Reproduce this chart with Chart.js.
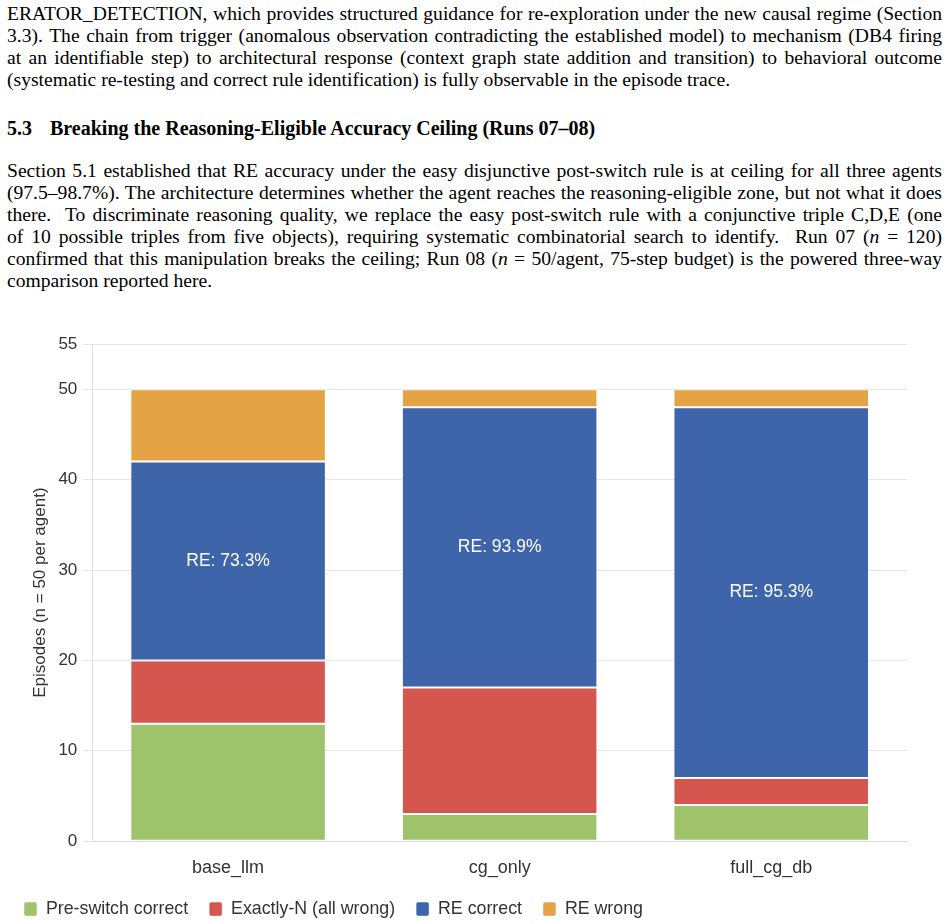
<!DOCTYPE html>
<html>
<head>
<meta charset="utf-8">
<script src="https://cdn.jsdelivr.net/npm/chart.js@4.4.1/dist/chart.umd.min.js"></script>
<style>
  html, body { margin: 0; padding: 0; background: #fff; }
  body { width: 948px; height: 924px; position: relative; overflow: hidden; }
  .txt { position: absolute; left: 7px; width: 935px; font-family: "Liberation Serif", "Times New Roman", serif; font-size: 19.6px; line-height: 22px; color: #000; }
  .j { text-align: justify; text-align-last: justify; white-space: nowrap; }
  .l { text-align: left; white-space: nowrap; }
  .h { font-weight: bold; font-size: 20px; }
  #wrap { position: absolute; left: 0; top: 325px; width: 948px; height: 603px; }
</style>
</head>
<body>
<div class="txt" style="top:3px">
  <div class="j">ERATOR_DETECTION, which provides structured guidance for re-exploration under the new causal regime (Section</div>
  <div class="j">3.3). The chain from trigger (anomalous observation contradicting the established model) to mechanism (DB4 firing</div>
  <div class="j">at an identifiable step) to architectural response (context graph state addition and transition) to behavioral outcome</div>
  <div class="l">(systematic re-testing and correct rule identification) is fully observable in the episode trace.</div>
</div>
<div class="txt h" style="top:117px"><span style="display:inline-block;width:43px">5.3</span>Breaking the Reasoning-Eligible Accuracy Ceiling (Runs 07–08)</div>
<div class="txt" style="top:160px">
  <div class="j">Section 5.1 established that RE accuracy under the easy disjunctive post-switch rule is at ceiling for all three agents</div>
  <div class="j">(97.5–98.7%). The architecture determines whether the agent reaches the reasoning-eligible zone, but not what it does</div>
  <div class="j">there.&nbsp; To discriminate reasoning quality, we replace the easy post-switch rule with a conjunctive triple C,D,E (one</div>
  <div class="j">of 10 possible triples from five objects), requiring systematic combinatorial search to identify.&nbsp; Run 07 (<i>n</i> = 120)</div>
  <div class="j">confirmed that this manipulation breaks the ceiling; Run 08 (<i>n</i> = 50/agent, 75-step budget) is the powered three-way</div>
  <div class="l">comparison reported here.</div>
</div>
<div id="wrap"><canvas id="c"></canvas></div>
<script>
const categories = ['base_llm', 'cg_only', 'full_cg_db'];
const seriesNames = ['Pre-switch correct', 'Exactly-N (all wrong)', 'RE correct', 'RE wrong'];
const preSwitchCorrect = [13, 3, 4];
const exactlyN = [7, 14, 3];
const reCorrect = [22, 31, 41];
const reWrong = [8, 2, 2];
const yTickValues = [0, 10, 20, 30, 40, 50, 55];
const seriesColors = ['#9fc36a', '#d3574f', '#3e64a9', '#e4a345'];

const SANS = '"Liberation Sans", Arial, sans-serif';

const reLabelPlugin = {
  id: 'reLabels',
  afterDatasetsDraw(chart) {
    const meta = chart.getDatasetMeta(2);
    const ctx = chart.ctx;
    ctx.save();
    ctx.fillStyle = '#ffffff';
    ctx.font = '17.5px ' + SANS;
    ctx.textAlign = 'center';
    ctx.textBaseline = 'middle';
    meta.data.forEach((bar, i) => {
      const pct = reCorrect[i] / (reCorrect[i] + reWrong[i]) * 100;
      const p = bar.getProps(['x', 'y', 'base'], true);
      ctx.fillText('RE: ' + pct.toFixed(1) + '%', p.x, (p.y + p.base) / 2);
    });
    ctx.restore();
  }
};

const data = [preSwitchCorrect, exactlyN, reCorrect, reWrong];
new Chart(document.getElementById('c'), {
  type: 'bar',
  data: {
    labels: categories,
    datasets: data.map((d, i) => ({
      label: seriesNames[i],
      data: d,
      backgroundColor: seriesColors[i],
      borderColor: 'rgba(255,255,255,0.45)',
      borderWidth: 1,
      borderSkipped: false
    }))
  },
  options: {
    responsive: true,
    maintainAspectRatio: false,
    animation: false,
    layout: { padding: { left: 3, right: 41, top: 19, bottom: 0 } },
    plugins: {
      legend: {
        position: 'bottom',
        align: 'start',
        labels: {
          color: '#333',
          font: { family: SANS, size: 17.8 },
          boxWidth: 13, boxHeight: 14,
          useBorderRadius: true, borderRadius: 2,
          padding: 21
        }
      },
      tooltip: { enabled: false }
    },
    scales: {
      x: {
        stacked: true,
        grid: { display: false },
        border: { color: '#d9d9d9' },
        ticks: { color: '#333', font: { family: SANS, size: 18 }, padding: 8 },
        afterFit(scale) { scale.height = 38; }
      },
      y: {
        stacked: true,
        min: 0, max: 55,
        afterBuildTicks(scale) { scale.ticks = yTickValues.map(v => ({ value: v })); },
        grid: { color: '#e6e6e6', tickLength: 10 },
        border: { color: '#e0e0e0' },
        ticks: { color: '#333', font: { family: SANS, size: 17 }, padding: 5 },
        title: {
          display: true,
          text: 'Episodes (n = 50 per agent)',
          color: '#333',
          font: { family: SANS, size: 17 },
          padding: { top: 27, bottom: 3 }
        }
      }
    }
  },
  plugins: [reLabelPlugin]
});
</script>
</body>
</html>
